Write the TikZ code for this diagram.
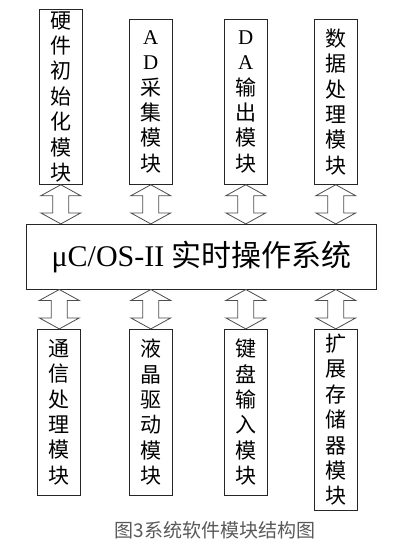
\documentclass[tikz,border=0pt]{standalone}
\usepackage{fontspec}
\setmainfont{Liberation Serif}
\newfontfamily\cjk{Noto Sans CJK SC}
\usepackage{tikz}
\usetikzlibrary{calc}

% hollow two-way arrow between two points (#1 above #2)
\newcommand{\twoway}[2]{%
  \draw[link] (#1) -- ++(20,11) -- ++(-12,0) -- ($(#2)+(8,-11)$) -- ++(12,0)
    -- (#2) -- ++(-20,-11) -- ++(12,0) -- ($(#1)+(-8,11)$) -- ++(-12,0) -- cycle;}

\begin{document}
\begin{tikzpicture}[x=1pt,y=-1pt]
	\tikzset{module/.style = {shape=rectangle,draw=black!85,line width=0.9pt,minimum width=43pt,inner sep=0pt,text width=30pt,align=center,font=\cjk\fontsize{21}{25.4}\selectfont}}
	\tikzset{kernel/.style = {shape=rectangle,draw=black!85,line width=0.9pt,minimum width=350pt,minimum height=64.7pt,inner sep=0pt,font=\fontsize{30}{33}\selectfont}}
	\tikzset{link/.style = {draw=black!70,line width=0.8pt,fill=white}}
	\useasboundingbox (0,0) rectangle (402,542);
	% upper modules
	\node[module,minimum height=175pt] (t1) at (60.8,96.8) {硬\\件\\初\\始\\化\\模\\块};
	\node[module,minimum height=165pt] (t2) at (150.8,101.8) {\textrm{A}\\\textrm{D}\\采\\集\\模\\块};
	\node[module,minimum height=165pt] (t3) at (245.8,101.8) {\textrm{D}\\\textrm{A}\\输\\出\\模\\块};
	\node[module,minimum height=165pt] (t4) at (335.8,101.8) {数\\据\\处\\理\\模\\块};
	% kernel
	\node[kernel] (os) at (201.7,256.7) {μC/OS-II {\cjk 实时操作系统}};
	% lower modules
	\node[module,minimum height=165.7pt] (b1) at (59.3,412.2) {通\\信\\处\\理\\模\\块};
	\node[module,minimum height=165.7pt] (b2) at (150.8,412.2) {液\\晶\\驱\\动\\模\\块};
	\node[module,minimum height=165.7pt] (b3) at (245.8,412.2) {键\\盘\\输\\入\\模\\块};
	\node[module,minimum height=180.7pt] (b4) at (335.8,419.7) {扩\\展\\存\\储\\器\\模\\块};
	% caption
	\node[font=\cjk\fontsize{19}{22}\selectfont,text=black!65,inner sep=0pt] (cap) at (215,530) {图3系统软件模块结构图};
	% arrows
	\coordinate (u1) at (t1.south |- os.north);
	\coordinate (u2) at (t2.south |- os.north);
	\coordinate (u3) at (t3.south |- os.north);
	\coordinate (u4) at (t4.south |- os.north);
	\coordinate (d1) at (b1.north |- os.south);
	\coordinate (d2) at (b2.north |- os.south);
	\coordinate (d3) at (b3.north |- os.south);
	\coordinate (d4) at (b4.north |- os.south);
	\twoway{t1.south}{u1}
	\twoway{t2.south}{u2}
	\twoway{t3.south}{u3}
	\twoway{t4.south}{u4}
	\twoway{d1}{b1.north}
	\twoway{d2}{b2.north}
	\twoway{d3}{b3.north}
	\twoway{d4}{b4.north}
\end{tikzpicture}
\end{document}
